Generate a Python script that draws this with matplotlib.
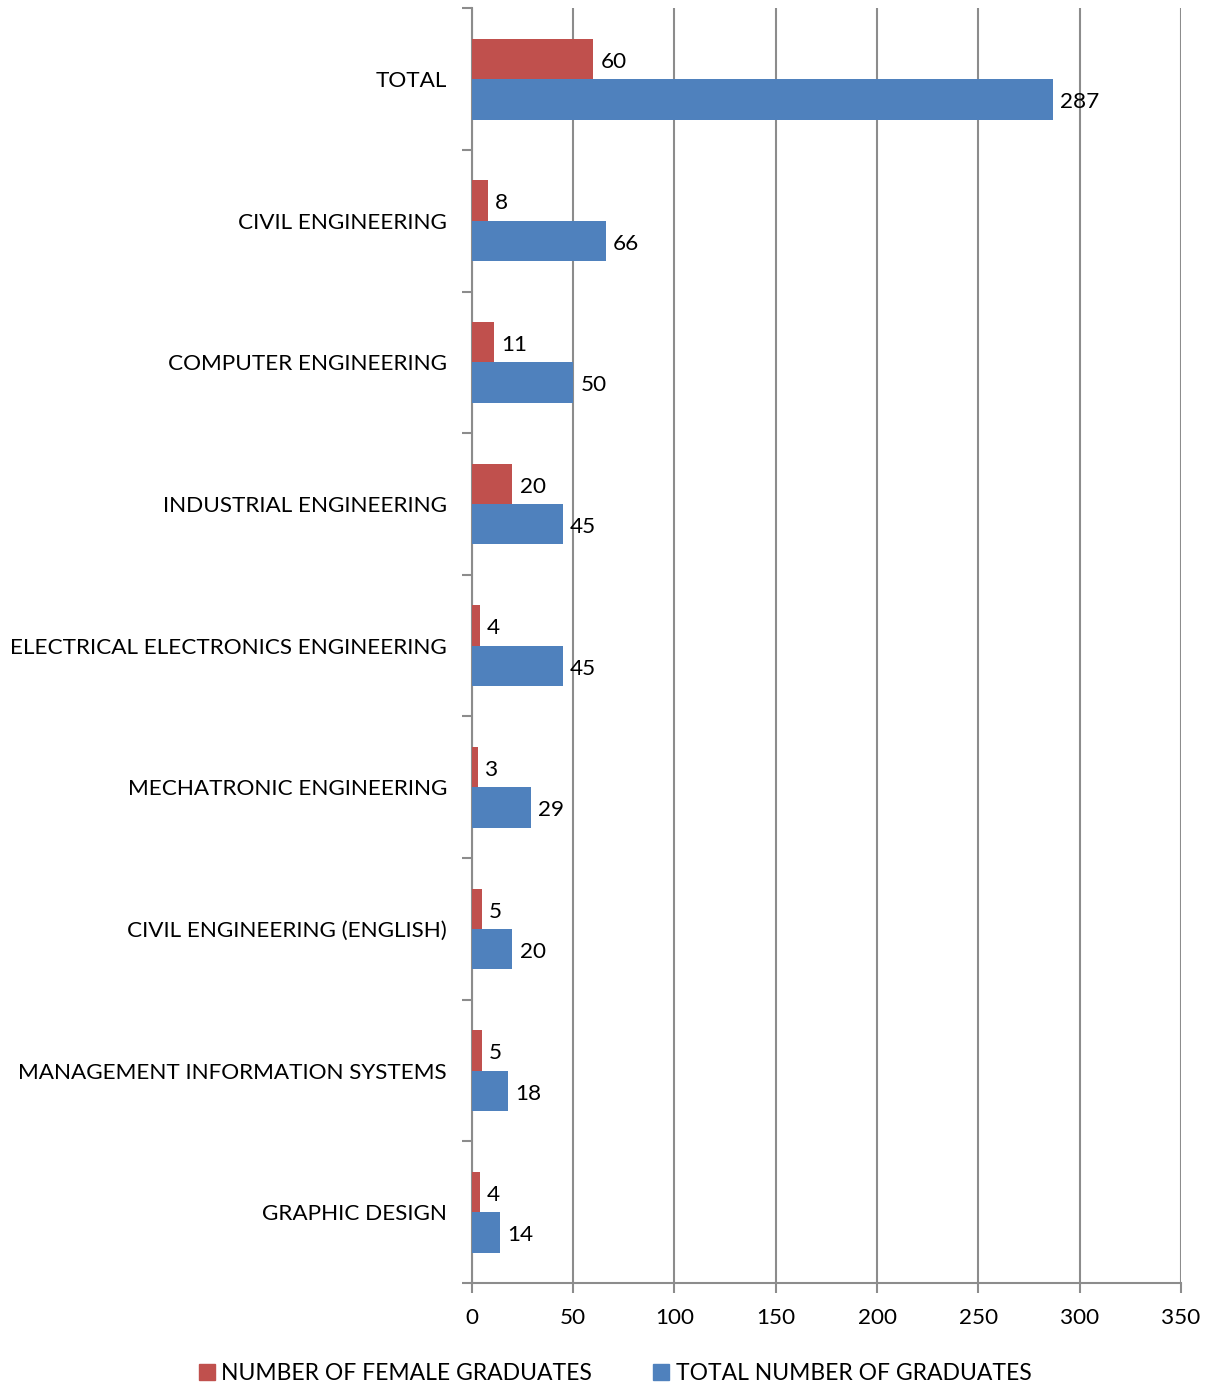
import matplotlib.pyplot as plt
from matplotlib.lines import Line2D
import numpy as np

plt.rcParams['font.family'] = ['Lato', 'DejaVu Sans']

# programmes, top to bottom
programs = ['TOTAL', 'CIVIL ENGINEERING', 'COMPUTER ENGINEERING',
            'INDUSTRIAL ENGINEERING', 'ELECTRICAL ELECTRONICS ENGINEERING',
            'MECHATRONIC ENGINEERING', 'CIVIL ENGINEERING (ENGLISH)',
            'MANAGEMENT INFORMATION SYSTEMS', 'GRAPHIC DESIGN']
female = [60, 8, 11, 20, 4, 3, 5, 5, 4]
total = [287, 66, 50, 45, 45, 29, 20, 18, 14]
x_ticks = [0, 50, 100, 150, 200, 250, 300, 350]

red = '#C0504D'
blue = '#4F81BD'
grid_col = '#8C8C8C'

fig = plt.figure(figsize=(12.1, 13.87), dpi=100)
ax = fig.add_axes([0.390, 0.075, 0.586, 0.919])

y = np.arange(len(programs))
h = 0.285
ax.barh(y - h / 2, female, height=h, color=red, zorder=3)
ax.barh(y + h / 2, total, height=h, color=blue, zorder=3)

for yi, v in zip(y, female):
    ax.text(v + 3.5, yi - h / 2 + 0.02, str(v), va='center', ha='left', fontsize=16.2, zorder=4)
for yi, v in zip(y, total):
    ax.text(v + 3.5, yi + h / 2 + 0.02, str(v), va='center', ha='left', fontsize=16.2, zorder=4)

ax.set_ylim(len(programs) - 0.5, -0.5)
ax.set_xlim(0, 350)
ax.set_xticks(x_ticks)
ax.tick_params(axis='x', labelsize=16.2, length=7, width=1.5, color=grid_col, pad=11)

# category labels between the boundary ticks
ax.set_yticks(y)
ax.set_yticklabels(programs, fontsize=16.2)
ax.set_yticks(np.arange(len(programs) + 1) - 0.5, minor=True)
ax.tick_params(axis='y', which='major', length=0, pad=18)
ax.tick_params(axis='y', which='minor', length=7, width=1.5, color=grid_col)

ax.grid(axis='x', color=grid_col, linewidth=1.5, zorder=0)
for s in ['top', 'right']:
    ax.spines[s].set_visible(False)
for s in ['left', 'bottom']:
    ax.spines[s].set_color(grid_col)
    ax.spines[s].set_linewidth(1.5)

handles = [Line2D([], [], marker='s', linestyle='', color=red, markersize=11),
           Line2D([], [], marker='s', linestyle='', color=blue, markersize=11)]
fig.legend(handles, ['NUMBER OF FEMALE GRADUATES', 'TOTAL NUMBER OF GRADUATES'],
           loc='lower center', bbox_to_anchor=(0.506, -0.013), ncol=2, frameon=False,
           fontsize=16.5, handletextpad=0.05, columnspacing=2.4, handlelength=1.2)

fig.savefig('out.png', dpi=100)
